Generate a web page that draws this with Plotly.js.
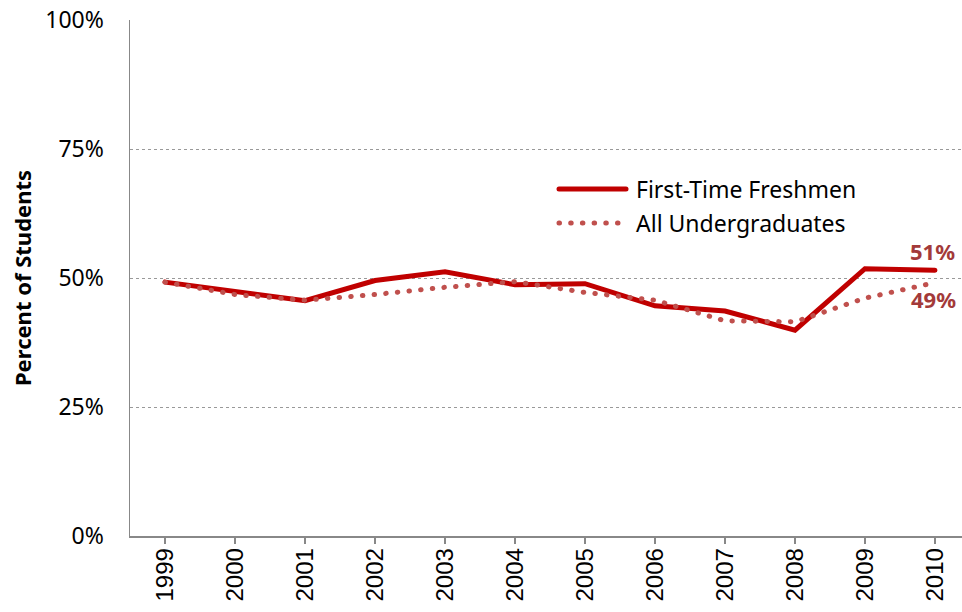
<!DOCTYPE html>
<html><head><meta charset="utf-8">
<script src="https://cdn.plot.ly/plotly-3.0.1.min.js"></script>
<style>html,body{margin:0;padding:0;background:#fff}#chart{width:962px;height:612px}
#chart .js-line, #chart .shapelayer path{stroke-linecap:round}</style>
</head><body><div id="chart"></div>
<script>
const years = ['1999','2000','2001','2002','2003','2004','2005','2006','2007','2008','2009','2010'];
const freshmen = [49.2, 47.3, 45.6, 49.5, 51.2, 48.7, 48.9, 44.6, 43.6, 39.9, 51.8, 51.5];
const undergrads = [49.2, 46.8, 45.7, 46.8, 48.2, 49.3, 47.2, 45.7, 41.7, 41.5, 46.1, 49.1];
const yTicks = [0, 25, 50, 75, 100];
const seriesNames = ['First-Time Freshmen', 'All Undergraduates'];
const endLabels = ['51%', '49%'];

const red = '#c00000', pink = '#c0504d', lab = '#a33a3a';
const dotDash = '0.5px,11.2px';
const traces = [
  {x: years, y: freshmen, type: 'scatter', mode: 'lines', name: seriesNames[0],
   line: {color: red, width: 5}, showlegend: false, hoverinfo: 'skip'},
  {x: years, y: undergrads, type: 'scatter', mode: 'lines', name: seriesNames[1],
   line: {color: pink, width: 5, dash: dotDash}, showlegend: false, hoverinfo: 'skip'}
];
const last = years.length - 1;
const legY1 = (612-76-189)/516, legY2 = (612-76-223)/516;
const legX0 = (559-130)/832, legX1 = (626-130)/832, legTx = (634-130)/832;
const layout = {
  width: 962, height: 612,
  margin: {l: 130, r: 0, t: 20, b: 76},
  paper_bgcolor: '#fff', plot_bgcolor: '#fff',
  font: {family: 'Noto Sans, sans-serif', color: '#000', size: 20},
  xaxis: {type: 'category', range: [-0.5, 11.386], showline: true, linecolor: '#888', linewidth: 1.5,
    ticks: 'outside', ticklen: 6, tickcolor: '#888', tickwidth: 1.5, tickangle: -90,
    ticklabelstandoff: -5,
    showgrid: false, zeroline: false, fixedrange: true,
    tickfont: {family: 'Liberation Sans, Arial, sans-serif', size: 24, color: '#000'}},
  yaxis: {range: [0, 100], tickvals: yTicks, ticktext: yTicks.map(v => v + '%'),
    showline: true, linecolor: '#888', linewidth: 1.5, ticks: '', ticklabelstandoff: 20,
    showgrid: true, gridcolor: '#999', gridwidth: 1, griddash: 'dot', zeroline: false,
    tickfont: {family: 'Noto Sans, sans-serif', size: 23, color: '#000'},
    title: {text: 'Percent of Students', standoff: 7,
      font: {family: 'Noto Sans, sans-serif', size: 22, color: '#000', weight: 'bold'}}},
  shapes: [
    {type: 'line', xref: 'paper', yref: 'paper', x0: legX0, x1: legX1, y0: legY1, y1: legY1,
     line: {color: red, width: 5}},
    {type: 'line', xref: 'paper', yref: 'paper', x0: legX0, x1: legX1, y0: legY2, y1: legY2,
     line: {color: pink, width: 5, dash: dotDash}}
  ],
  annotations: [
    {xref: 'paper', yref: 'paper', x: legTx, y: legY1, xanchor: 'left', yanchor: 'middle',
     text: seriesNames[0], showarrow: false, font: {size: 23, color: '#000'}},
    {xref: 'paper', yref: 'paper', x: legTx, y: legY2, xanchor: 'left', yanchor: 'middle',
     text: seriesNames[1], showarrow: false, font: {size: 23, color: '#000'}},
    {xref: 'x', yref: 'y', x: last, y: freshmen[last], yshift: 19, xshift: -2,
     text: '<b>' + endLabels[0] + '</b>', showarrow: false, font: {size: 22, color: lab}},
    {xref: 'x', yref: 'y', x: last, y: undergrads[last], yshift: -16, xshift: -1,
     text: '<b>' + endLabels[1] + '</b>', showarrow: false, font: {size: 22, color: lab}}
  ]
};
Plotly.newPlot('chart', traces, layout, {staticPlot: true, displayModeBar: false});
</script></body></html>
